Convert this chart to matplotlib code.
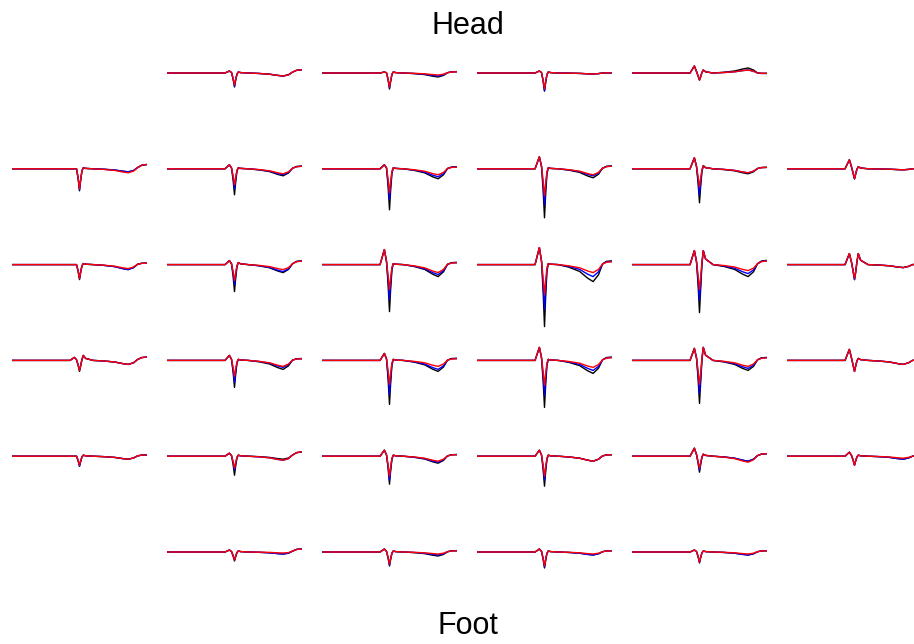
import numpy as np
import matplotlib
matplotlib.use("Agg")
import matplotlib.pyplot as plt

# Electrode grid: 6 rows x 6 cols, corners of top/bottom rows are empty
n_rows, n_cols = 6, 6
empty = [(0, 0), (0, 5), (5, 0), (5, 5)]

# Keypoint positions along each trace (fraction of panel width)
x_key = [0.00, 0.43, 0.462, 0.478, 0.49, 0.50, 0.508, 0.518, 0.528, 0.545,
         0.60, 0.68, 0.76, 0.82, 0.86, 0.90, 0.93, 0.96, 1.00]
# unit shapes of the waveform parts
trough_shape = [0, 0, 0, 0, -0.45, -1, -0.55, -0.12, 0, 0, 0, 0, 0, 0, 0, 0, 0, 0, 0]
pre_shape = [0, 0, 1, 0.2, 0, 0, 0, 0, 0, 0, 0, 0, 0, 0, 0, 0, 0, 0, 0]
post_shape = [0, 0, 0, 0, 0, 0, 0, 0.4, 1, 0.4, 0, 0, 0, 0, 0, 0, 0, 0, 0]
ahp_shape = [0, 0, 0, 0, 0, 0, 0, 0, 0, 0, 0, -0.15, -0.4, -0.8, -1, -0.6, 0, 0.1, 0.1]
end_shape = [0, 0, 0, 0, 0, 0, 0, 0, 0, 0, 0, 0, 0, 0, 0, 0, 0.3, 0.8, 1]

# per channel (row, col): trough depth black/blue/red
trough = {
    (0, 1): (14, 13, 12), (0, 2): (16, 15, 14), (0, 3): (18, 18, 16), (0, 4): (7, 7, 7),
    (1, 0): (22, 21, 20), (1, 1): (26, 20, 16), (1, 2): (41, 31, 24),
    (1, 3): (49, 36, 27), (1, 4): (34, 26, 18), (1, 5): (10, 10, 10),
    (2, 0): (15, 14, 14), (2, 1): (27, 20, 16), (2, 2): (47, 35, 25),
    (2, 3): (62, 45, 30), (2, 4): (48, 36, 25), (2, 5): (15, 15, 14),
    (3, 0): (11, 10, 10), (3, 1): (27, 22, 16), (3, 2): (44, 34, 24),
    (3, 3): (47, 35, 25), (3, 4): (43, 33, 24), (3, 5): (11, 11, 11),
    (4, 0): (10, 10, 9), (4, 1): (19, 14, 12), (4, 2): (28, 24, 20),
    (4, 3): (30, 24, 20), (4, 4): (16, 14, 12), (4, 5): (9, 9, 9),
    (5, 1): (9, 8, 8), (5, 2): (14, 13, 12), (5, 3): (16, 15, 14), (5, 4): (11, 10, 10),
}
# after-hyperpolarisation depth black/blue/red
ahp = {
    (0, 1): (3, 3, 3), (0, 2): (4, 3, 2), (0, 3): (1, 1, 1), (0, 4): (-5, -3, -3),
    (1, 0): (3, 3, 4), (1, 1): (7, 6, 5), (1, 2): (10, 8, 6),
    (1, 3): (9, 7, 6), (1, 4): (5, 4, 4), (1, 5): (1, 1, 1),
    (2, 0): (5, 5, 4), (2, 1): (8, 7, 5), (2, 2): (12, 10, 8),
    (2, 3): (17, 12, 8), (2, 4): (12, 9, 6), (2, 5): (3, 3, 3),
    (3, 0): (4, 4, 4), (3, 1): (9, 7, 6), (3, 2): (11, 9, 6),
    (3, 3): (13, 10, 7), (3, 4): (10, 8, 6), (3, 5): (4, 4, 4),
    (4, 0): (3, 3, 3), (4, 1): (3, 4, 4), (4, 2): (7, 6, 5),
    (4, 3): (5, 5, 5), (4, 4): (5, 5, 6), (4, 5): (3, 3, 2),
    (5, 1): (2, 2, 1), (5, 2): (4, 3, 2), (5, 3): (3, 3, 2), (5, 4): (3, 3, 2),
}
# pre-peak, post-peak, end offset
extras = {
    (0, 1): (2, 1, 3), (0, 2): (1, 1, 1), (0, 3): (2, 1, 0), (0, 4): (7, 3, 0),
    (1, 0): (0, 1, 4), (1, 1): (4, 1, 2), (1, 2): (4, 1, 1),
    (1, 3): (12, 1, 2), (1, 4): (11, 3, 1), (1, 5): (9, 2, 0),
    (2, 0): (0, 1, 1), (2, 1): (4, 2, 3), (2, 2): (15, 1, 1),
    (2, 3): (17, 1, 2), (2, 4): (14, 14, 3), (2, 5): (11, 11, 0),
    (3, 0): (3, 5, 3), (3, 1): (5, 1, 1), (3, 2): (7, 1, 1),
    (3, 3): (13, 1, 2), (3, 4): (12, 13, 2), (3, 5): (11, 2, 0),
    (4, 0): (0, 1, 1), (4, 1): (3, 1, 4), (4, 2): (6, 1, 1),
    (4, 3): (6, 1, 1), (4, 4): (8, 2, 2), (4, 5): (4, 1, 0),
    (5, 1): (2, 1, 3), (5, 2): (3, 1, 1), (5, 3): (3, 1, 1), (5, 4): (2, 1, 1),
}
colors = ['black', 'blue', 'red']

fig = plt.figure(figsize=(9.14, 6.44), dpi=100)
W, H = 914, 644

for r in range(n_rows):
    for c in range(n_cols):
        if (r, c) in empty:
            continue
        base = 73 + 95.8 * r
        left = 12 + 155 * c
        ax = fig.add_axes([left / W, 1 - (base + 66) / H, 135 / W, 96 / H])
        pre, post, end = extras[(r, c)]
        for i, col in enumerate(colors):
            y = (trough[(r, c)][i] * np.array(trough_shape)
                 + pre * np.array(pre_shape)
                 + post * np.array(post_shape)
                 + ahp[(r, c)][i] * np.array(ahp_shape)
                 + end * np.array(end_shape))
            ax.plot(x_key, y, color=col, lw=1.0)
        ax.set_xlim(0, 1)
        ax.set_ylim(-66, 30)
        ax.axis('off')

fig.text(468 / W, 1 - 26 / H, 'Head', ha='center', va='center',
         fontsize=22, family='Liberation Sans')
fig.text(468 / W, 1 - 626 / H, 'Foot', ha='center', va='center',
         fontsize=22, family='Liberation Sans')

fig.savefig('out.png', dpi=100)
